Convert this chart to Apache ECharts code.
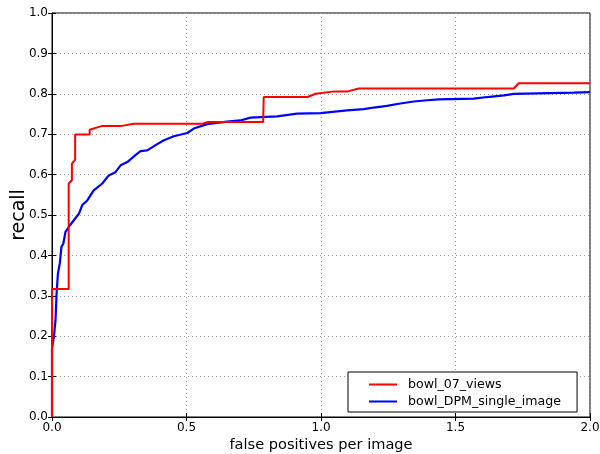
<!DOCTYPE html>
<html><head><meta charset="utf-8">
<script src="https://cdn.jsdelivr.net/npm/echarts@6/dist/echarts.min.js"></script>
<style>html,body{margin:0;padding:0;background:#fff}#c{width:600px;height:454px}</style>
</head><body><div id="c"></div>
<script>
const seriesNames = ['bowl_07_views', 'bowl_DPM_single_image'];
const xTicks = [0, 0.5, 1.0, 1.5, 2.0];
const yTicks = [0, 0.1, 0.2, 0.3, 0.4, 0.5, 0.6, 0.7, 0.8, 0.9, 1.0];
const red07Views = [[0,0],[0,0.317],[0.062,0.317],[0.062,0.578],[0.074,0.586],[0.074,0.627],[0.086,0.637],[0.086,0.699],[0.14,0.699],[0.14,0.711],[0.184,0.720],[0.255,0.720],[0.304,0.726],[0.56,0.726],[0.58,0.730],[0.785,0.730],[0.787,0.792],[0.95,0.792],[0.98,0.800],[1.05,0.806],[1.10,0.806],[1.14,0.813],[1.717,0.813],[1.735,0.826],[2.0,0.826]];
const blueDPM = [[0,0],[0,0.17],[0.007,0.198],[0.013,0.239],[0.017,0.305],[0.022,0.355],[0.029,0.380],[0.035,0.421],[0.042,0.429],[0.05,0.458],[0.062,0.470],[0.081,0.487],[0.10,0.503],[0.112,0.524],[0.131,0.536],[0.155,0.561],[0.187,0.578],[0.211,0.598],[0.236,0.606],[0.255,0.623],[0.28,0.631],[0.31,0.648],[0.329,0.658],[0.354,0.660],[0.385,0.673],[0.416,0.685],[0.453,0.695],[0.503,0.703],[0.527,0.714],[0.577,0.725],[0.651,0.731],[0.70,0.734],[0.738,0.741],[0.837,0.744],[0.911,0.751],[0.998,0.752],[1.097,0.759],[1.159,0.762],[1.196,0.766],[1.245,0.770],[1.295,0.776],[1.345,0.781],[1.395,0.784],[1.438,0.786],[1.568,0.788],[1.618,0.792],[1.68,0.796],[1.717,0.800],[1.94,0.803],[1.946,0.804],[2.0,0.804]];

const font = 'DejaVu Sans';
const chart = echarts.init(document.getElementById('c'), null, {renderer:'canvas'});
const gridLine = {show:true, lineStyle:{color:'#a0a0a0', type:[1,3], width:1}};
const fmt = v => v.toFixed(1);
chart.setOption({
  animation:false,
  backgroundColor:'#fff',
  grid:{left:52, right:10, top:13, bottom:37, outerBoundsMode:'none', containLabel:false, show:true, borderColor:'#000', borderWidth:1, backgroundColor:'transparent'},
  xAxis:[{type:'value', min:xTicks[0], max:xTicks[xTicks.length-1], interval:0.5,
    name:'false positives per image', nameLocation:'middle', nameGap:21, nameMoveOverlap:false,
    nameTextStyle:{fontFamily:font, fontSize:14.6, color:'#000'},
    axisLine:{show:true, lineStyle:{color:'#000'}},
    axisTick:{show:true, inside:true, length:4, lineStyle:{color:'#000'}},
    axisLabel:{fontFamily:font, fontSize:12, color:'#000', margin:5, formatter:fmt},
    splitLine:gridLine},
    {type:'value', position:'top', min:0, max:2, interval:0.5,
    axisLine:{show:false}, axisTick:{show:true, inside:true, length:4, lineStyle:{color:'#000'}},
    axisLabel:{show:false}, splitLine:{show:false}}],
  yAxis:[{type:'value', min:yTicks[0], max:yTicks[yTicks.length-1], interval:0.1,
    name:'recall', nameLocation:'middle', nameGap:23, nameRotate:90, nameMoveOverlap:false,
    nameTextStyle:{fontFamily:font, fontSize:19, color:'#000'},
    axisLine:{show:true, lineStyle:{color:'#000'}},
    axisTick:{show:true, inside:true, length:4, lineStyle:{color:'#000'}},
    axisLabel:{fontFamily:font, fontSize:12, color:'#000', margin:4, formatter:fmt},
    splitLine:gridLine},
    {type:'value', position:'right', min:0, max:1, interval:0.1,
    axisLine:{show:false}, axisTick:{show:true, inside:true, length:4, lineStyle:{color:'#000'}},
    axisLabel:{show:false}, splitLine:{show:false}}],
  legend:{orient:'vertical', left:348, top:372, width:230,
    padding:[6, 16, 4, 21], itemGap:4, itemWidth:28, itemHeight:2, icon:'rect',
    borderColor:'#000', borderWidth:1, backgroundColor:'#fff',
    textStyle:{fontFamily:font, fontSize:12.6, color:'#000', padding:[0,0,0,6]},
    data:seriesNames},
  series:[
    {name:seriesNames[0], type:'line', data:red07Views, symbol:'none', color:'#ff0000',
      lineStyle:{color:'#ff0000', width:2}, z:3},
    {name:seriesNames[1], type:'line', data:blueDPM, symbol:'none', color:'#0000ff',
      lineStyle:{color:'#0000ff', width:2.2}, z:2}
  ]
});
</script></body></html>
